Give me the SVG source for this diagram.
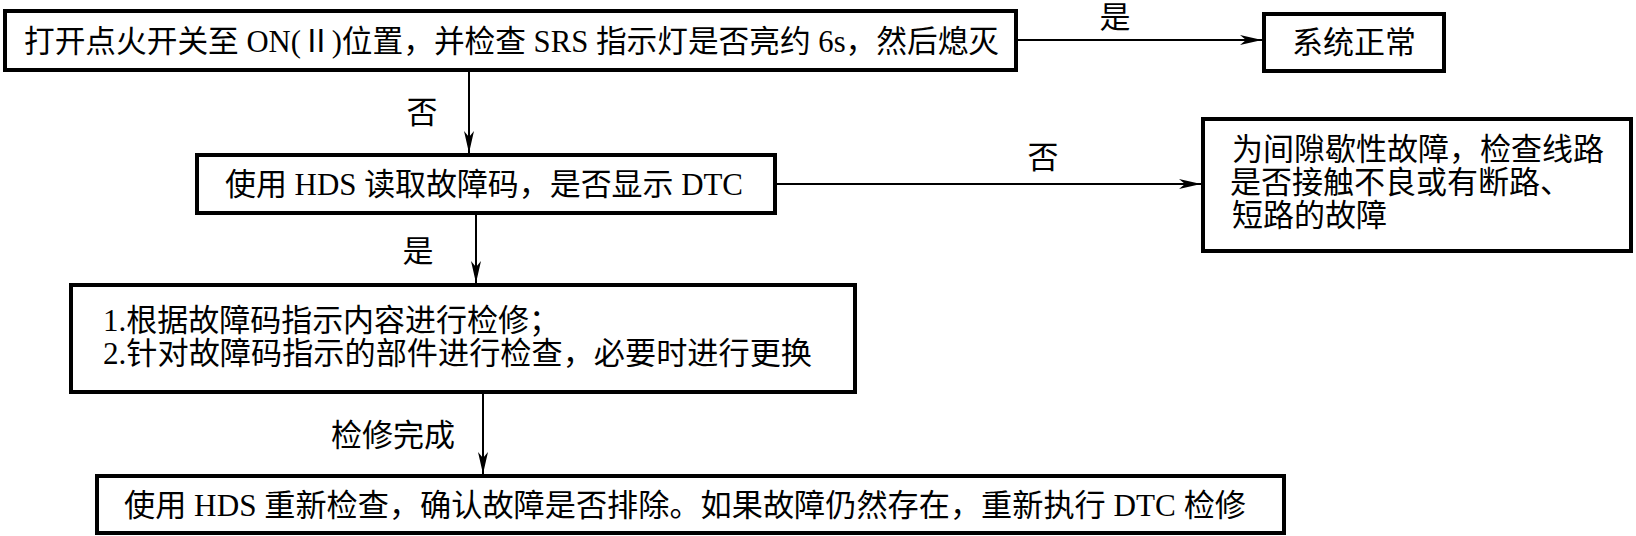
<svg xmlns="http://www.w3.org/2000/svg" width="1636" height="536" viewBox="0 0 1636 536">
<style>
  .box { fill: #ffffff; stroke: #000000; stroke-width: 4; }
  .t { font-family: "Liberation Serif", "Noto Sans CJK SC", serif; font-size: 31px; fill: #000000; }
  .lbl { font-family: "Liberation Serif", "Noto Sans CJK SC", serif; font-size: 31px; fill: #000000; text-anchor: middle; }
  .conn { stroke: #000000; stroke-width: 2; fill: none; marker-end: url(#arr); }
</style>
<defs>
  <marker id="arr" markerUnits="userSpaceOnUse" markerWidth="24" markerHeight="12" refX="22" refY="6" orient="auto">
    <path d="M0,1 L22,6 L0,11 L6,6 Z" fill="#000000"/>
  </marker>
</defs>
<rect x="0" y="0" width="1636" height="536" fill="#ffffff"/>

<g id="connectors">
  <line class="conn" x1="1018" y1="40" x2="1262" y2="40"/>
  <line class="conn" x1="469" y1="72" x2="469" y2="153"/>
  <line class="conn" x1="777" y1="184" x2="1201" y2="184"/>
  <line class="conn" x1="476" y1="215" x2="476" y2="283"/>
  <line class="conn" x1="483" y1="394" x2="483" y2="474"/>
  <text class="lbl" x="1115" y="28">是</text>
  <text class="lbl" x="422" y="123">否</text>
  <text class="lbl" x="1043" y="168">否</text>
  <text class="lbl" x="418" y="262">是</text>
  <text class="t" x="331" y="446" textLength="124" lengthAdjust="spacingAndGlyphs">检修完成</text>
</g>

<g id="n1">
  <rect class="box" x="5" y="11" width="1011" height="59"/>
  <text class="t" x="24" y="52" textLength="975" lengthAdjust="spacingAndGlyphs">打开点火开关至 ON(Ⅱ)位置，并检查 SRS 指示灯是否亮约 6s，然后熄灭</text>
</g>

<g id="n2">
  <rect class="box" x="1264" y="14" width="180" height="57"/>
  <text class="t" x="1292" y="53" textLength="124" lengthAdjust="spacingAndGlyphs">系统正常</text>
</g>

<g id="n3">
  <rect class="box" x="197" y="155" width="578" height="58"/>
  <text class="t" x="225" y="195" textLength="518" lengthAdjust="spacingAndGlyphs">使用 HDS 读取故障码，是否显示 DTC</text>
</g>

<g id="n4">
  <rect class="box" x="1203" y="119" width="428" height="132"/>
  <text class="t" x="1232" y="160" textLength="372" lengthAdjust="spacingAndGlyphs">为间隙歇性故障，检查线路</text>
  <text class="t" x="1230" y="193" textLength="341" lengthAdjust="spacingAndGlyphs">是否接触不良或有断路、</text>
  <text class="t" x="1232" y="226" textLength="155" lengthAdjust="spacingAndGlyphs">短路的故障</text>
</g>

<g id="n5">
  <rect class="box" x="71" y="285" width="784" height="107"/>
  <text class="t" x="103" y="331" textLength="457" lengthAdjust="spacingAndGlyphs">1.根据故障码指示内容进行检修；</text>
  <text class="t" x="103" y="364" textLength="709" lengthAdjust="spacingAndGlyphs">2.针对故障码指示的部件进行检查，必要时进行更换</text>
</g>

<g id="n6">
  <rect class="box" x="97" y="476" width="1187" height="57"/>
  <text class="t" x="124" y="516" textLength="1122" lengthAdjust="spacingAndGlyphs">使用 HDS 重新检查，确认故障是否排除。如果故障仍然存在，重新执行 DTC 检修</text>
</g>
</svg>
